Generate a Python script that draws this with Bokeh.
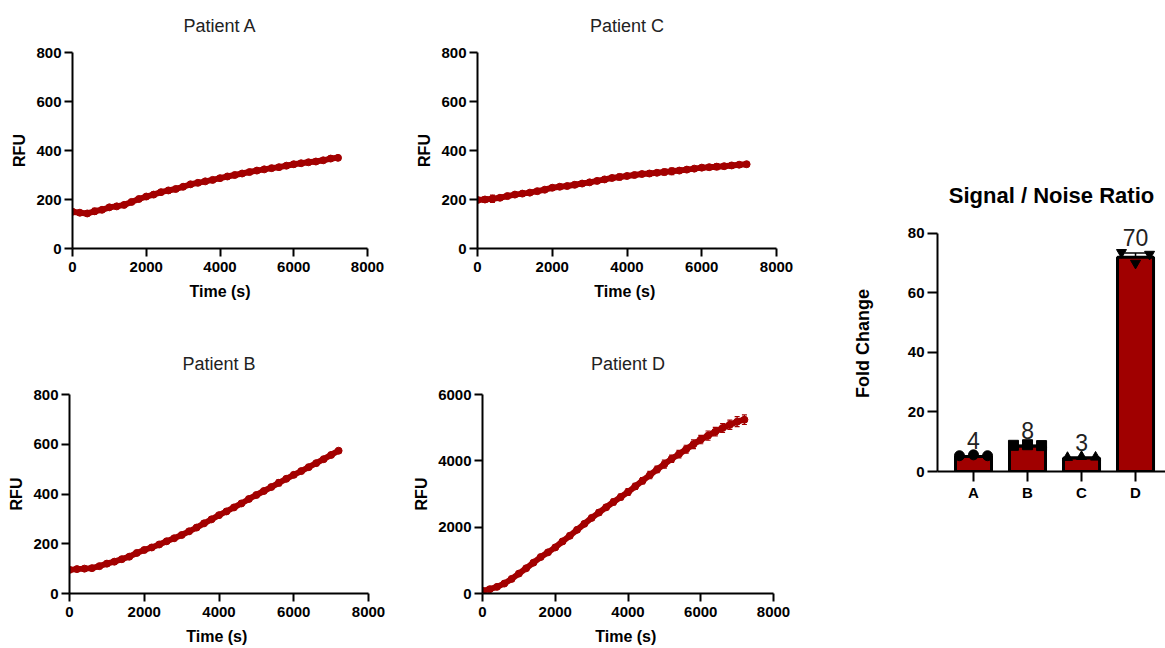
from bokeh.plotting import figure
from bokeh.layouts import row, column
from bokeh.models import Range1d, FixedTicker, ColumnDataSource, Whisker, TeeHead, LabelSet
from bokeh.core.properties import value
from bokeh.embed import file_html
from bokeh.resources import INLINE

# ---------------- data ----------------
time_s = [0, 200, 400, 600, 800, 1000, 1200, 1400, 1600, 1800, 2000, 2200, 2400, 2600,
          2800, 3000, 3200, 3400, 3600, 3800, 4000, 4200, 4400, 4600, 4800, 5000, 5200,
          5400, 5600, 5800, 6000, 6200, 6400, 6600, 6800, 7000, 7200]

rfu_a = [150, 146, 143, 152, 158, 168, 172, 178, 190, 202, 212, 220, 230, 237, 243, 252,
         262, 268, 274, 280, 287, 294, 300, 306, 312, 318, 323, 328, 332, 338, 344, 348,
         352, 355, 360, 367, 370]
sem_a = [6, 5, 4, 12, 6, 5, 8, 5, 6, 5, 4, 6, 7, 5, 8, 6, 5, 7, 6, 5, 8, 6, 5, 6, 7, 5,
         6, 5, 8, 6, 10, 6, 5, 7, 6, 8, 6]

rfu_c = [198, 200, 203, 207, 214, 220, 224, 228, 234, 240, 248, 252, 255, 260, 265, 270,
         276, 282, 288, 292, 296, 300, 304, 306, 309, 312, 315, 318, 322, 326, 330, 332,
         334, 336, 339, 342, 344]
sem_c = [10, 12, 15, 8, 6, 7, 5, 8, 6, 7, 9, 8, 6, 10, 7, 6, 8, 7, 9, 12, 7, 6, 8, 10, 6,
         12, 14, 7, 8, 6, 9, 7, 12, 8, 10, 9, 7]

rfu_b = [95, 98, 100, 102, 110, 120, 128, 138, 148, 163, 175, 185, 197, 210, 222, 235,
         250, 265, 282, 298, 315, 330, 346, 362, 380, 396, 412, 428, 445, 461, 477, 492,
         508, 524, 540, 557, 574]
sem_b = [5, 4, 6, 5, 7, 10, 6, 5, 6, 5, 7, 6, 8, 5, 6, 7, 5, 6, 8, 6, 5, 7, 6, 8, 10, 6,
         5, 7, 12, 6, 8, 6, 7, 5, 6, 7, 5]

rfu_d = [80, 130, 200, 300, 440, 600, 760, 930, 1100, 1240, 1390, 1570, 1740, 1920, 2100,
         2280, 2440, 2600, 2760, 2910, 3060, 3230, 3400, 3570, 3740, 3900, 4060, 4200,
         4350, 4500, 4640, 4760, 4880, 4990, 5090, 5180, 5240]
sem_d = [20, 30, 25, 35, 40, 30, 45, 40, 50, 45, 60, 55, 70, 60, 65, 70, 80, 75, 90, 85,
         100, 90, 95, 110, 100, 120, 110, 115, 120, 130, 125, 140, 130, 135, 140, 150, 145]

x_ticks = [0, 2000, 4000, 6000, 8000]
y_ticks_small = [0, 200, 400, 600, 800]
y_ticks_d = [0, 2000, 4000, 6000]

patients = ["A", "B", "C", "D"]
fold_change = [5.0, 8.5, 4.5, 72.0]
fold_sd = [0.3, 0.3, 0.3, 1.4]
rep1 = [5.3, 8.8, 4.7, 73.6]
rep2 = [5.6, 9.0, 5.0, 70.0]
rep3 = [5.3, 8.7, 4.8, 73.0]
value_labels = ["4", "8", "3", "70"]
fold_ticks = [0, 20, 40, 60, 80]

# ---------------- style ----------------
RED = "#a30000"
FONT = "Liberation Sans"


def style_axes(p, tick_len=8, label_font="15px", axis_font="16px"):
    p.outline_line_color = None
    p.grid.visible = False
    for ax in (p.xaxis[0], p.yaxis[0]):
        ax.axis_line_width = 2
        ax.axis_line_color = "black"
        ax.major_tick_line_width = 2
        ax.major_tick_line_color = "black"
        ax.major_tick_out = tick_len
        ax.major_tick_in = 0
        ax.minor_tick_out = 0
        ax.minor_tick_in = 0
        ax.major_label_text_font = FONT
        ax.major_label_text_font_style = "bold"
        ax.major_label_text_font_size = label_font
        ax.major_label_text_color = "black"
        ax.axis_label_text_font = FONT
        ax.axis_label_text_font_style = "bold"
        ax.axis_label_text_font_size = axis_font
        ax.axis_label_text_color = "black"
        ax.major_label_standoff = 3


def line_panel(title, y, sem, ymax, yticks, xlabel, width, height, bl, br, bt, bb,
               tstand, valign):
    p = figure(width=width, height=height, x_range=Range1d(0, 8000), y_range=Range1d(0, ymax),
               output_backend="svg", toolbar_location=None,
               min_border_left=bl, min_border_right=br, min_border_top=bt, min_border_bottom=bb)
    style_axes(p)
    p.xaxis.ticker = FixedTicker(ticks=x_ticks)
    p.yaxis.ticker = FixedTicker(ticks=yticks)
    p.xaxis.axis_label = xlabel
    p.yaxis.axis_label = "RFU"
    p.xaxis.major_label_standoff = 5
    p.xaxis.axis_label_standoff = 8
    p.yaxis.axis_label_standoff = 5
    p.title.text = title
    p.title.align = "center"
    p.title.vertical_align = valign
    p.title.text_font = FONT
    p.title.text_font_style = "normal"
    p.title.text_font_size = "18px"
    p.title.text_color = "#222222"
    p.title.standoff = tstand

    lo = [v - s for v, s in zip(y, sem)]
    hi = [v + s for v, s in zip(y, sem)]
    src = ColumnDataSource(dict(t=time_s, y=y, lo=lo, hi=hi))
    p.add_layout(Whisker(source=src, base="t", lower="lo", upper="hi", dimension="height",
                         line_color=RED, line_width=1.2,
                         upper_head=TeeHead(size=5, line_color=RED, line_width=1.2),
                         lower_head=TeeHead(size=5, line_color=RED, line_width=1.2)))
    p.line("t", "y", source=src, line_color=RED, line_width=6)
    p.scatter("t", "y", source=src, size=7, fill_color=RED, line_color=RED)
    return p


pA = line_panel("Patient A", rfu_a, sem_a, 800, y_ticks_small, "Time (s)",
                410, 326, 72, 43, 52, 78, 30, "top")
pC = line_panel("Patient C", rfu_c, sem_c, 800, y_ticks_small, "Time  (s)",
                405, 326, 67, 39, 52, 76, 30, "top")
pB = line_panel("Patient B", rfu_b, sem_b, 800, y_ticks_small, "Time  (s)",
                410, 322, 69, 42, 67, 55, 42, "bottom")
pD = line_panel("Patient D", rfu_d, sem_d, 6000, y_ticks_d, "Time  (s)",
                405, 322, 65, 42, 68, 54, 42, "bottom")

# ---------------- bar chart ----------------
xpos = [1, 2, 3, 4]
pbar = figure(width=350, height=648, x_range=Range1d(0.333, 4.555), y_range=Range1d(0, 86),
              output_backend="svg", toolbar_location=None,
              min_border_left=122, min_border_right=0, min_border_top=215, min_border_bottom=177)
style_axes(pbar, tick_len=10, label_font="15px", axis_font="18px")
pbar.xaxis.ticker = FixedTicker(ticks=xpos)
pbar.xaxis.major_label_overrides = {i: n for i, n in zip(xpos, patients)}
pbar.xaxis.major_label_standoff = 2
pbar.yaxis.ticker = FixedTicker(ticks=fold_ticks)
pbar.yaxis.bounds = (0, 80)
pbar.yaxis.axis_label = "Fold Change"
pbar.yaxis.axis_label_standoff = 32
pbar.title.text = "Signal / Noise Ratio"
pbar.title.align = "center"
pbar.title.text_font = FONT
pbar.title.text_font_style = "bold"
pbar.title.text_font_size = "22px"
pbar.title.text_color = "black"
pbar.title.standoff = 15

bsrc = ColumnDataSource(dict(x=xpos, top=fold_change,
                             lo=[m - s for m, s in zip(fold_change, fold_sd)],
                             hi=[m + s for m, s in zip(fold_change, fold_sd)],
                             ymax=[max(a, b, c) for a, b, c in zip(rep1, rep2, rep3)],
                             lab=value_labels))
pbar.vbar(x="x", top="top", bottom=0, width=0.667, source=bsrc,
          fill_color="#a00000", line_color="black", line_width=3)
pbar.add_layout(Whisker(source=bsrc, base="x", lower="lo", upper="hi", dimension="height",
                        line_color="black", line_width=1.5,
                        upper_head=TeeHead(size=22, line_color="black", line_width=1.5),
                        lower_head=TeeHead(size=22, line_color="black", line_width=1.5)))
markers = ["circle", "square", "triangle", "inverted_triangle"]
offsets = [-0.26, 0.0, 0.26]
for off, rep in zip(offsets, (rep1, rep2, rep3)):
    msrc = ColumnDataSource(dict(x=[v + off for v in xpos], y=rep, m=markers))
    pbar.scatter("x", "y", source=msrc, marker="m", size=10, fill_color="black", line_color="black")
pbar.add_layout(LabelSet(x="x", y="ymax", text="lab", source=bsrc, text_align="center",
                         text_baseline="bottom", y_offset=6, text_font=value(FONT),
                         text_font_size="23px", text_color="#222222"))

layout = row(column(row(pA, pC), row(pB, pD)), pbar)

open("out.html", "w").write(file_html(layout, INLINE))
